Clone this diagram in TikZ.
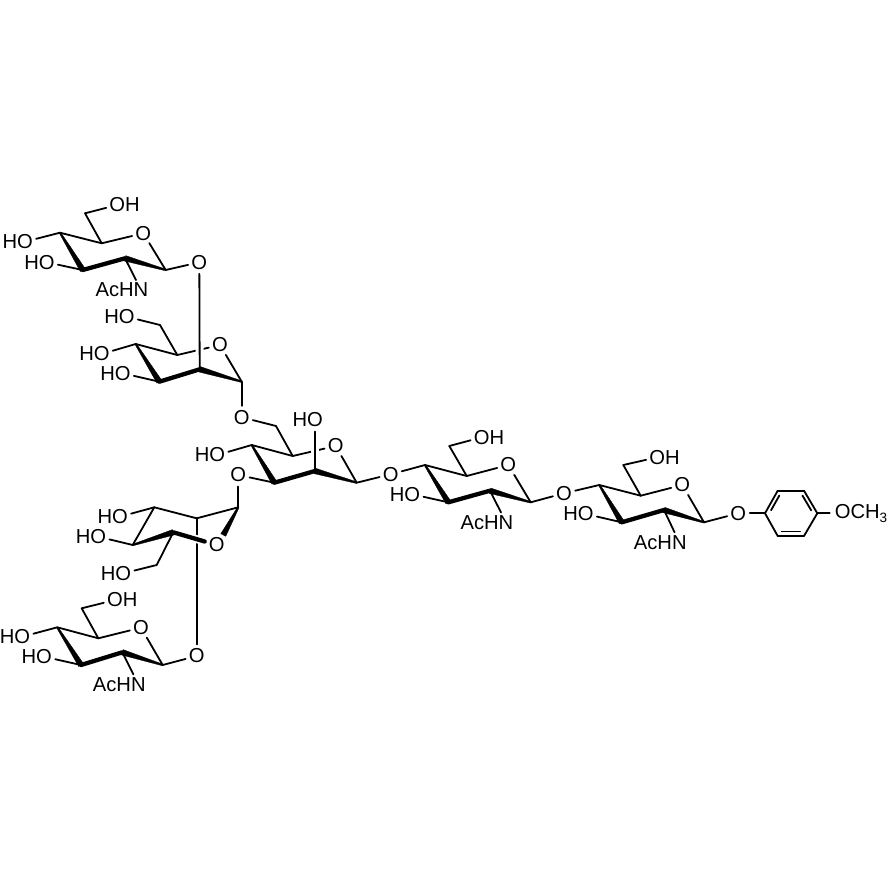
\documentclass[tikz,border=0pt]{standalone}
\usepackage{fontspec}
\setmainfont{Liberation Sans}
\usetikzlibrary{calc}
\tikzset{
  atom/.style={circle,inner sep=0pt,font=\fontsize{20.2}{21}\selectfont},
  bond/.style={line width=1.8pt,line cap=round,line join=round},
  boldbond/.style={line width=4.3pt,line cap=round},
  over/.style={preaction={draw,white,line width=8pt,line cap=butt}},
}
\newcommand{\wedgebond}[2]{\filldraw[line width=0.3pt,line join=round]
  ($(#1)!0.8pt!90:(#2)$) -- ($(#1)!0.8pt!-90:(#2)$) --
  ($(#2)!2.8pt!90:(#1)$) -- ($(#2)!2.8pt!-90:(#1)$) -- cycle;}
\begin{document}
\begin{tikzpicture}[x=1pt,y=-1pt,bond]
      \useasboundingbox (0,0) rectangle (890,890);
      \path
        (165.7,270) coordinate (a1)
        (125,258.3) coordinate (a2)
        (82.7,270) coordinate (a3)
        (60,232.7) coordinate (a4)
        (101.7,243.3) coordinate (a5)
        (85,213.3) coordinate (a6)
        (143.3,233.3) node[atom] (aO) {O}
        (199.3,262.3) node[atom] (aO1) {O}
        (25,241.7) node[atom] (aO4) {\llap{H}O}
        (46.7,262.3) node[atom] (aO3) {\llap{H}O}
        (117.3,205) node[atom] (aO6) {O\rlap{H}}
        (141,290) node[atom] (aN) {\llap{AcH}N};
      \path
        (241.7,381.7) coordinate (b1)
        (199.7,369.3) coordinate (b2)
        (159.3,381.7) coordinate (b3)
        (135.7,344) coordinate (b4)
        (177.3,355) coordinate (b5)
        (160,325) coordinate (b6)
        (220,345) node[atom] (bO) {O}
        (241.7,417.3) node[atom] (bO1) {O}
        (101.7,354) node[atom] (bO4) {\llap{H}O}
        (122.7,373.3) node[atom] (bO3) {\llap{H}O}
        (126.7,316.7) node[atom] (bO6) {\llap{H}O};
      \path
        (356.7,482.7) coordinate (c1)
        (315,471) coordinate (c2)
        (274.3,482.7) coordinate (c3)
        (251.7,445) coordinate (c4)
        (292.7,456) coordinate (c5)
        (276,426) coordinate (c6)
        (335.7,446) node[atom] (cO) {O}
        (390.7,474.3) node[atom] (cO1) {O}
        (315,420) node[atom] (cO2) {\llap{H}O}
        (238.3,475) node[atom] (cO3) {O}
        (217.3,455) node[atom] (cO4) {\llap{H}O};
      \path
        (530.7,502.3) coordinate (d1)
        (490,490.7) coordinate (d2)
        (448.3,502.3) coordinate (d3)
        (425,465) coordinate (d4)
        (466.7,476) coordinate (d5)
        (449.3,446) coordinate (d6)
        (508.3,465) node[atom] (dO) {O}
        (564,493.3) node[atom] (dO1) {O}
        (412.3,494.3) node[atom] (dO3) {\llap{H}O}
        (481.7,437.3) node[atom] (dO6) {O\rlap{H}}
        (506,522.3) node[atom] (dN) {\llap{AcH}N};
      \path
        (704,522.3) coordinate (e1)
        (664,510) coordinate (e2)
        (621.7,522.3) coordinate (e3)
        (599.3,485) coordinate (e4)
        (640.7,495.7) coordinate (e5)
        (623.3,465) coordinate (e6)
        (682.3,485) node[atom] (eO) {O}
        (738.3,513.3) node[atom] (eO1) {O}
        (585.7,514) node[atom] (eO3) {\llap{H}O}
        (657.3,457.3) node[atom] (eO6) {O\rlap{H}}
        (679.3,542.3) node[atom] (eN) {\llap{AcH}N};
      \path
        (765,513.3) coordinate (p1)
        (777.7,490.7) coordinate (p2)
        (804,490.7) coordinate (p3)
        (817.3,513.3) coordinate (p4)
        (804,536) coordinate (p5)
        (777.7,536) coordinate (p6)
        (842.7,513.3) node[atom] (pO) {O\rlap{CH\raisebox{-0.2em}{\fontsize{13.5}{14}\selectfont 3}}};
      \path
        (238.3,507.3) coordinate (g1)
        (196.7,518.3) coordinate (g2)
        (154.3,507.3) coordinate (g3)
        (132.7,545) coordinate (g4)
        (173.3,532.3) coordinate (g5)
        (156.7,565) coordinate (g6)
        (223.3,535) coordinate (gW)
        (216.7,545) node[atom] (gO) {O}
        (120,516.7) node[atom] (gO3) {\llap{H}O}
        (98.3,536.7) node[atom] (gO4) {\llap{H}O}
        (123.3,573.3) node[atom] (gO6) {\llap{H}O};
      \path
        (162.7,665) coordinate (f1)
        (122.3,652.3) coordinate (f2)
        (81,665) coordinate (f3)
        (57.3,627.3) coordinate (f4)
        (98.3,638.3) coordinate (f5)
        (81.7,608.3) coordinate (f6)
        (141,627.7) node[atom] (fO) {O}
        (196.7,656) node[atom] (fO1) {O}
        (22.3,636.7) node[atom] (fO4) {\llap{H}O}
        (44,656.7) node[atom] (fO3) {\llap{H}O}
        (115,600) node[atom] (fO6) {O\rlap{H}}
        (138.3,684.3) node[atom] (fN) {\llap{AcH}N};
      \begin{scope}[-]
        \draw (a4) to (a5);
        \draw (a5) to (aO);
        \draw (aO) to (a1);
        \draw (a1) to (aO1);
        \draw (a4) to (aO4);
        \draw (a3) to (aO3);
        \draw (a5) to (a6);
        \draw (a6) to (aO6);
        \draw (a2) to (aN);
        \draw (b4) to (b5);
        \draw (b5) to (bO);
        \draw (bO) to (b1);
        \draw (b1) to (bO1);
        \draw (b4) to (bO4);
        \draw (b3) to (bO3);
        \draw (b5) to (b6);
        \draw (b6) to (bO6);
        \draw[over] (aO1) to (b2);
        \draw (bO1) to (c6);
        \draw (c4) to (c5);
        \draw (c5) to (cO);
        \draw (cO) to (c1);
        \draw (c1) to (cO1);
        \draw (c4) to (cO4);
        \draw (c3) to (cO3);
        \draw (c5) to (c6);
        \draw[over] (cO2) to (c2);
        \draw (cO1) to (d4);
        \draw (d4) to (d5);
        \draw (d5) to (dO);
        \draw (dO) to (d1);
        \draw (d1) to (dO1);
        \draw (d3) to (dO3);
        \draw (d5) to (d6);
        \draw (d6) to (dO6);
        \draw (d2) to (dN);
        \draw (dO1) to (e4);
        \draw (e4) to (e5);
        \draw (e5) to (eO);
        \draw (eO) to (e1);
        \draw (e1) to (eO1);
        \draw (e3) to (eO3);
        \draw (e5) to (e6);
        \draw (e6) to (eO6);
        \draw (e2) to (eN);
        \draw (eO1) to (p1);
        \draw (p1) to (p2);
        \draw (p2) to (p3);
        \draw (p3) to (p4);
        \draw (p4) to (p5);
        \draw (p5) to (p6);
        \draw (p6) to (p1);
        \draw (p4) to (pO);
        \draw ($(p1)!0.2!(p2)+(3.5,1.5)$) to ($(p1)!0.85!(p2)+(3.5,1.5)$);
        \draw ($(p3)!0.15!(p4)+(-3.5,1.5)$) to ($(p3)!0.8!(p4)+(-3.5,1.5)$);
        \draw ($(p5)!0.15!(p6)+(0,-4.5)$) to ($(p5)!0.85!(p6)+(0,-4.5)$);
        \draw (cO3) to (g1);
        \draw (g1) to (g2);
        \draw (g2) to (g3);
        \draw (g3) to (g4);
        \draw (g3) to (gO3);
        \draw (g4) to (gO4);
        \draw (g6) to (gO6);
        \draw (g2) to (fO1);
        \draw (f4) to (f5);
        \draw (f5) to (fO);
        \draw (fO) to (f1);
        \draw (f1) to (fO1);
        \draw (f4) to (fO4);
        \draw (f3) to (fO3);
        \draw (f5) to (f6);
        \draw (f6) to (fO6);
        \draw (f2) to (fN);
      \end{scope}
      \wedgebond{a4}{a3}
      \wedgebond{a1}{a2}
      \draw[boldbond] (a3) to (a2);
      \wedgebond{b4}{b3}
      \wedgebond{b1}{b2}
      \draw[boldbond] (b3) to (b2);
      \wedgebond{c4}{c3}
      \wedgebond{c1}{c2}
      \draw[boldbond] (c3) to (c2);
      \wedgebond{d4}{d3}
      \wedgebond{d1}{d2}
      \draw[boldbond] (d3) to (d2);
      \wedgebond{e4}{e3}
      \wedgebond{e1}{e2}
      \draw[boldbond] (e3) to (e2);
      \wedgebond{f4}{f3}
      \wedgebond{f1}{f2}
      \draw[boldbond] (f3) to (f2);
      \wedgebond{g1}{gW}
      \draw[boldbond,over,shorten >=1pt] (g5) to (gO);
      \draw (g5) to (g6);
      \wedgebond{g4}{g5}
    \end{tikzpicture}
\end{document}
